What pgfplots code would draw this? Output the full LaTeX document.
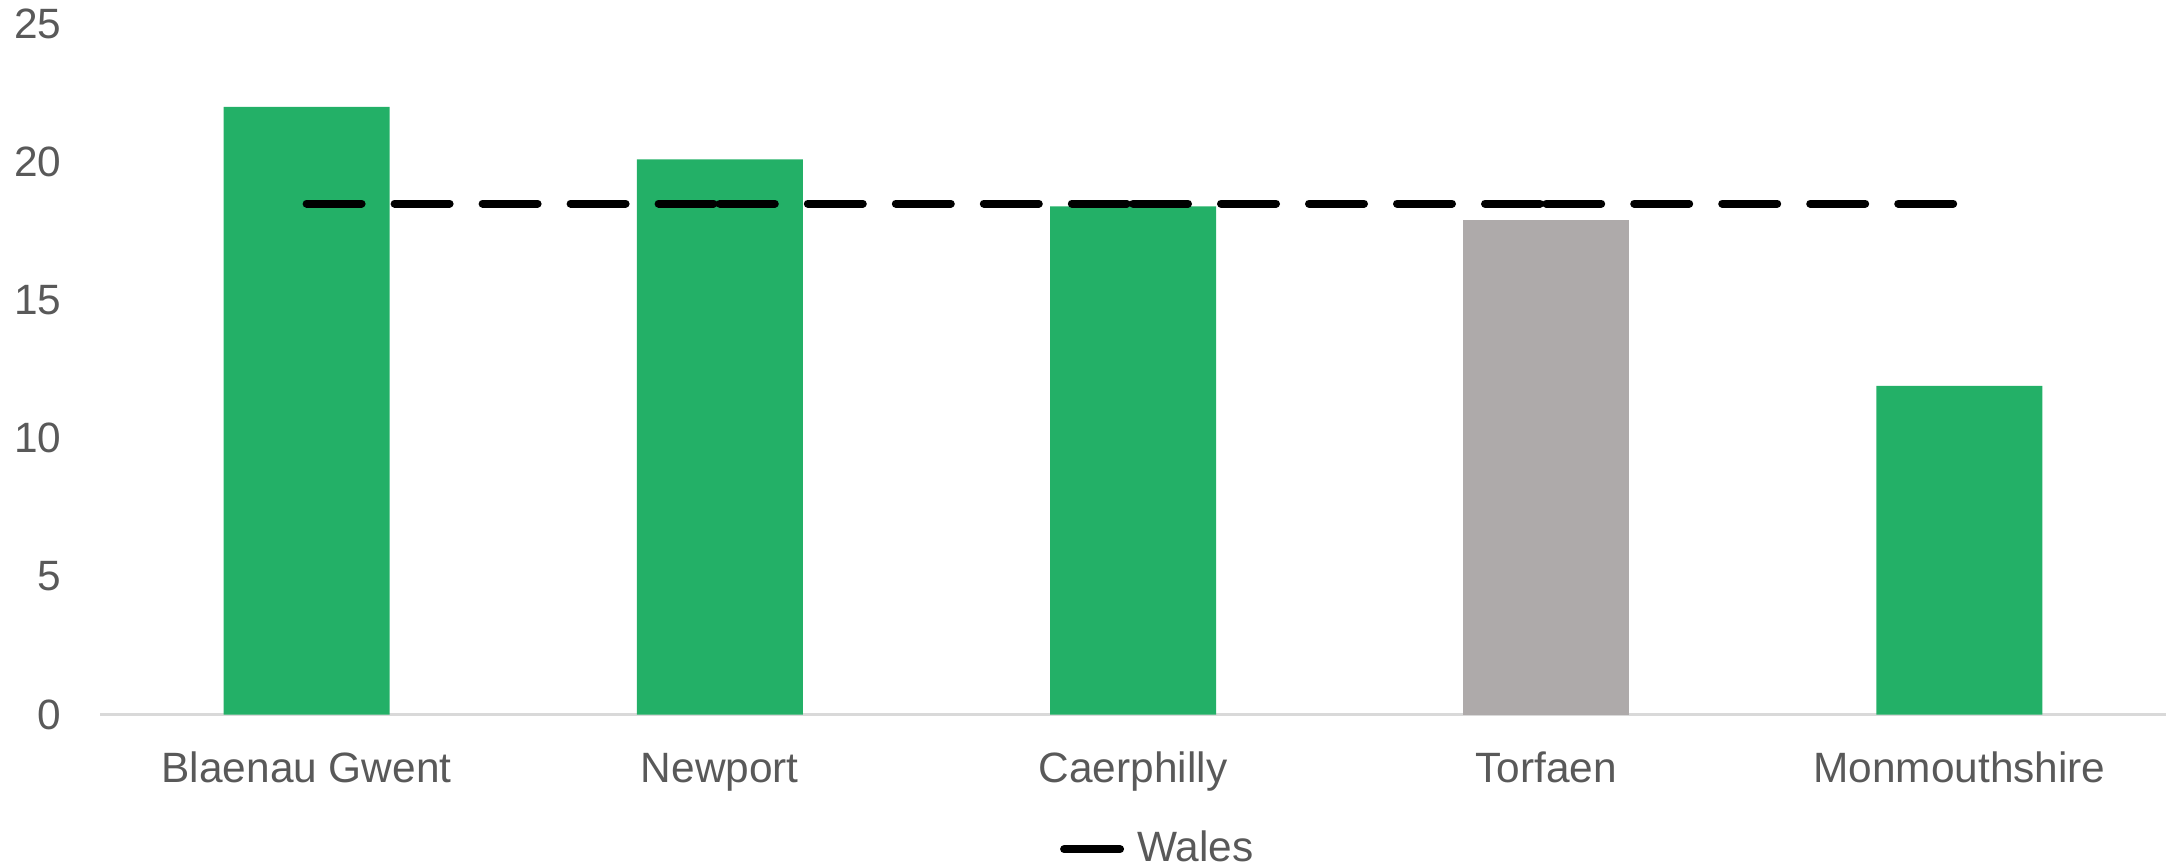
\documentclass[border=0pt]{standalone}
\usepackage{fontspec}
\setmainfont{Liberation Sans}
\usepackage{pgfplots}
\pgfplotsset{compat=1.18}
\definecolor{bargreen}{HTML}{23B067}
\definecolor{bargray}{HTML}{AEAAAA}
\definecolor{txt}{HTML}{595959}
\definecolor{axgray}{HTML}{D9D9D9}
\begin{document}
\begin{tikzpicture}
\path[use as bounding box] (-25pt,-37.875pt) rectangle (517.75pt,178.625pt);
\begin{axis}[
  at={(0pt,0pt)}, anchor=south west,
  scale only axis, width=516.5pt, height=172.625pt,
  xmin=-0.5, xmax=4.5, ymin=0, ymax=25,
  ytick={0,5,...,25}, xtick={0,1,2,3,4},
  xticklabels={Blaenau Gwent, Newport, Caerphilly, Torfaen, Monmouthshire},
  axis x line=bottom, axis y line=left,
  x axis line style={draw=axgray, line width=0.6pt, -},
  y axis line style={draw=none},
  major tick length=0pt,
  /pgf/number format/assume math mode=true,
  tick label style={font=\fontsize{10.6}{12}\selectfont, text=txt, inner sep=0pt},
  xticklabel style={anchor=north, yshift=-9.1pt, text height=7.6pt},
  yticklabel style={anchor=east, xshift=-9.5pt},
  legend style={draw=none, fill=none, at={(0.4647,-0.195)}, anchor=west,
    inner sep=0pt, outer sep=0pt, column sep=3.25pt,
    nodes={inner sep=0pt, text=txt, font=\fontsize{10.6}{12}\selectfont}},
  legend columns=-1,
  legend image code/.code={\draw[black, line width=2pt, line cap=round, solid] (0pt,0pt) -- (14pt,0pt);},
]
\addplot[ybar, bar width=41.5pt, bar shift=0pt, fill=bargreen, draw=none, forget plot]
  coordinates {(0,22.0) (1,20.1) (2,18.4) (4,11.9)};
\addplot[ybar, bar width=41.5pt, bar shift=0pt, fill=bargray, draw=none, forget plot]
  coordinates {(3,17.9)};
\addplot[black, line width=2pt, line cap=round, dash pattern=on 13.75pt off 8.25pt]
  coordinates {(0,18.5) (1,18.5)};
\addlegendentry{Wales}
\addplot[black, line width=2pt, line cap=round, dash pattern=on 13.75pt off 8.25pt, forget plot]
  coordinates {(1,18.5) (2,18.5)};
\addplot[black, line width=2pt, line cap=round, dash pattern=on 13.75pt off 8.25pt, forget plot]
  coordinates {(2,18.5) (3,18.5)};
\addplot[black, line width=2pt, line cap=round, dash pattern=on 13.75pt off 8.25pt, forget plot]
  coordinates {(3,18.5) (4,18.5)};
\end{axis}
\end{tikzpicture}
\end{document}
